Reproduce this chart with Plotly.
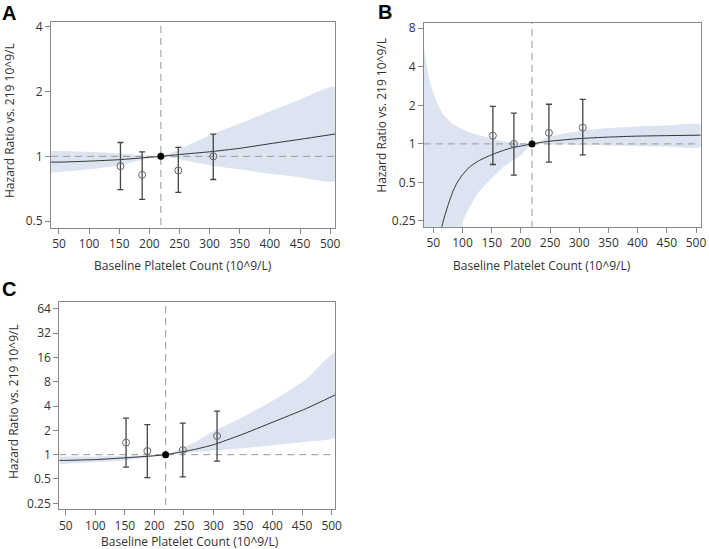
import plotly.graph_objects as go

# quintile medians of baseline platelet count
pt_x = [152, 188, 248, 306]
ref_x = 219

# panel A
a_x = [37, 50, 100, 150, 200, 219, 250, 300, 350, 400, 450, 508]
a_hr = [0.94, 0.94, 0.95, 0.965, 0.99, 1.0, 1.02, 1.05, 1.09, 1.145, 1.2, 1.27]
a_lo = [0.84, 0.845, 0.87, 0.91, 0.98, 1.0, 0.97, 0.91, 0.87, 0.83, 0.80, 0.77]
a_hi = [1.06, 1.06, 1.05, 1.03, 1.005, 1.0, 1.08, 1.25, 1.42, 1.62, 1.84, 2.1]
a_pt = [0.90, 0.82, 0.86, 1.0]
a_pt_lo = [0.70, 0.63, 0.68, 0.78]
a_pt_hi = [1.16, 1.05, 1.10, 1.27]

# panel B (curve and lower band leave the axis on the left)
b_x = [64, 67, 75, 83, 91, 100, 112, 126, 141, 155, 170, 185, 199, 219, 250, 300, 350, 400, 450, 508]
b_hr = [0.22, 0.25, 0.33, 0.42, 0.5, 0.574, 0.66, 0.73, 0.79, 0.84, 0.89, 0.933, 0.96, 1.0,
        1.05, 1.1, 1.13, 1.15, 1.16, 1.17]
b_hi_x = [34, 40, 46, 55, 66, 83, 112, 141, 170, 199, 219, 250, 300, 350, 400, 450, 508]
b_hi = [5.7, 3.7, 2.85, 2.18, 1.72, 1.43, 1.23, 1.13, 1.05, 1.01, 1.0, 1.14, 1.26, 1.33, 1.37, 1.39, 1.41]
b_lo_x = [34, 96, 101, 112, 126, 141, 170, 199, 219, 250, 300, 350, 400, 450, 508]
b_lo = [0.15, 0.15, 0.25, 0.32, 0.41, 0.49, 0.66, 0.81, 1.0, 0.99, 0.98, 0.97, 0.96, 0.955, 0.95]
b_pt = [1.16, 1.0, 1.22, 1.34]
b_pt_lo = [0.69, 0.57, 0.72, 0.82]
b_pt_hi = [1.96, 1.74, 2.04, 2.23]

# panel C
c_x = [39, 50, 100, 147, 200, 219, 240, 270, 300, 345, 401, 457, 506]
c_hr = [0.85, 0.85, 0.87, 0.91, 0.97, 1.0, 1.06, 1.17, 1.33, 1.74, 2.54, 3.73, 5.5]
c_lo = [0.76, 0.77, 0.81, 0.85, 0.95, 1.0, 1.04, 1.08, 1.12, 1.19, 1.31, 1.45, 1.66]
c_hi = [0.95, 0.95, 0.95, 0.96, 0.99, 1.0, 1.14, 1.45, 1.95, 2.8, 4.7, 8.6, 18.4]
c_pt = [1.41, 1.11, 1.14, 1.70]
c_pt_lo = [0.70, 0.52, 0.53, 0.83]
c_pt_hi = [2.84, 2.35, 2.46, 3.47]

band_col = '#dbe4f0'
ink = '#333333'
fig = go.Figure()


def panel(n, xs, hr, ux, hi, lx, lo, pts, plo, phi, xr):
    xa = 'x' if n == 1 else 'x%d' % n
    ya = 'y' if n == 1 else 'y%d' % n
    # confidence band: lower edge forwards, upper edge back
    bx = list(lx) + list(reversed(ux))
    by = list(lo) + list(reversed(hi))
    fig.add_trace(go.Scatter(x=bx, y=by, mode='lines', fill='toself', fillcolor=band_col,
                             line=dict(width=0, shape='spline', smoothing=0.5), xaxis=xa, yaxis=ya,
                             showlegend=False, hoverinfo='skip'))
    # reference lines
    fig.add_trace(go.Scatter(x=xr, y=[1, 1], mode='lines', line=dict(color='#999999', width=1, dash='7px,5px'),
                             xaxis=xa, yaxis=ya, showlegend=False))
    fig.add_trace(go.Scatter(x=[ref_x, ref_x], y=[0.001, 1000], mode='lines',
                             line=dict(color='#999999', width=1, dash='7px,5px'),
                             xaxis=xa, yaxis=ya, showlegend=False))
    # fitted curve
    fig.add_trace(go.Scatter(x=xs, y=hr, mode='lines', line=dict(color=ink, width=1, shape='spline', smoothing=0.5),
                             xaxis=xa, yaxis=ya, showlegend=False))
    # quintile estimates
    fig.add_trace(go.Scatter(x=pt_x, y=pts, mode='markers',
                             marker=dict(symbol='circle-open', size=7, color='#666666', line=dict(width=1)),
                             error_y=dict(type='data', symmetric=False,
                                          array=[h - p for h, p in zip(phi, pts)],
                                          arrayminus=[p - l for p, l in zip(pts, plo)],
                                          color='#444444', thickness=1.3, width=3),
                             xaxis=xa, yaxis=ya, showlegend=False))
    fig.add_trace(go.Scatter(x=[ref_x], y=[1], mode='markers', marker=dict(size=7, color='black'),
                             xaxis=xa, yaxis=ya, showlegend=False))


panel(1, a_x, a_hr, a_x, a_hi, a_x, a_lo, a_pt, a_pt_lo, a_pt_hi, [37, 508])
panel(2, b_x, b_hr, b_hi_x, b_hi, b_lo_x, b_lo, b_pt, b_pt_lo, b_pt_hi, [34, 508])
panel(3, c_x, c_hr, c_x, c_hi, c_x, c_lo, c_pt, c_pt_lo, c_pt_hi, [39, 506])

font = dict(family='Open Sans, Liberation Sans, sans-serif', size=12, color=ink)
xt = list(range(50, 501, 50))


def xax(dom, rng, anchor):
    return dict(domain=dom, range=rng, anchor=anchor, tickvals=xt, showline=True, mirror=True,
                linecolor='#888888', linewidth=1, ticks='outside', ticklen=5, tickcolor='#888888',
                showgrid=False, zeroline=False, tickfont=font, automargin=False)


def yax(dom, rng, tv, anchor):
    return dict(domain=dom, range=rng, anchor=anchor, type='log', tickvals=tv,
                ticktext=[str(v) for v in tv], showline=True, mirror=True,
                linecolor='#888888', linewidth=1, ticks='outside', ticklen=5, tickcolor='#888888',
                showgrid=False, zeroline=False, tickfont=font, automargin=False)


fig.update_layout(
    width=709, height=549, margin=dict(l=0, r=0, t=0, b=0),
    paper_bgcolor='white', plot_bgcolor='white', font=font,
    xaxis=xax([0.0719, 0.4725], [36.7, 508], 'y'),
    yaxis=yax([0.5847, 0.9599], [-0.3335, 0.6252], [0.5, 1, 2, 4], 'x'),
    xaxis2=xax([0.598, 0.9883], [34, 508], 'y2'),
    yaxis2=yax([0.5871, 0.9587], [-0.6466, 0.9467], [0.25, 0.5, 1, 2, 4, 8], 'x2'),
    xaxis3=xax([0.0836, 0.4725], [39, 505.6], 'y3'),
    yaxis3=yax([0.0723, 0.4490], [-0.6764, 1.8845], [0.25, 0.5, 1, 2, 4, 8, 16, 32, 64], 'x3'),
)

xlab = 'Baseline Platelet Count (10^9/L)'
ylab = 'Hazard Ratio vs. 219 10^9/L'
ann = [
    ('A', 9, 13, 0, True), ('B', 385, 12, 0, True), ('C', 9, 289, 0, True),
    (xlab, 183, 265.5, 0, False), (xlab, 541.5, 265, 0, False), (xlab, 190, 541.5, 0, False),
    (ylab, 10, 121, -90, False), (ylab, 381.7, 115, -90, False), (ylab, 13, 402, -90, False),
]
for txt, px, py, ang, bold in ann:
    fig.add_annotation(text='<b>%s</b>' % txt if bold else txt, x=px / 709, y=1 - py / 549,
                       xref='paper', yref='paper', showarrow=False, textangle=ang,
                       xanchor='center', yanchor='middle',
                       font=dict(family='Liberation Sans, Arial, sans-serif', size=20, color='black')
                       if bold else font)

# drop the page's default body margin so the figure sits at the window corner
fig.write_html("out.html", config={'displayModeBar': False},
               post_script="document.body.style.margin='0';")
